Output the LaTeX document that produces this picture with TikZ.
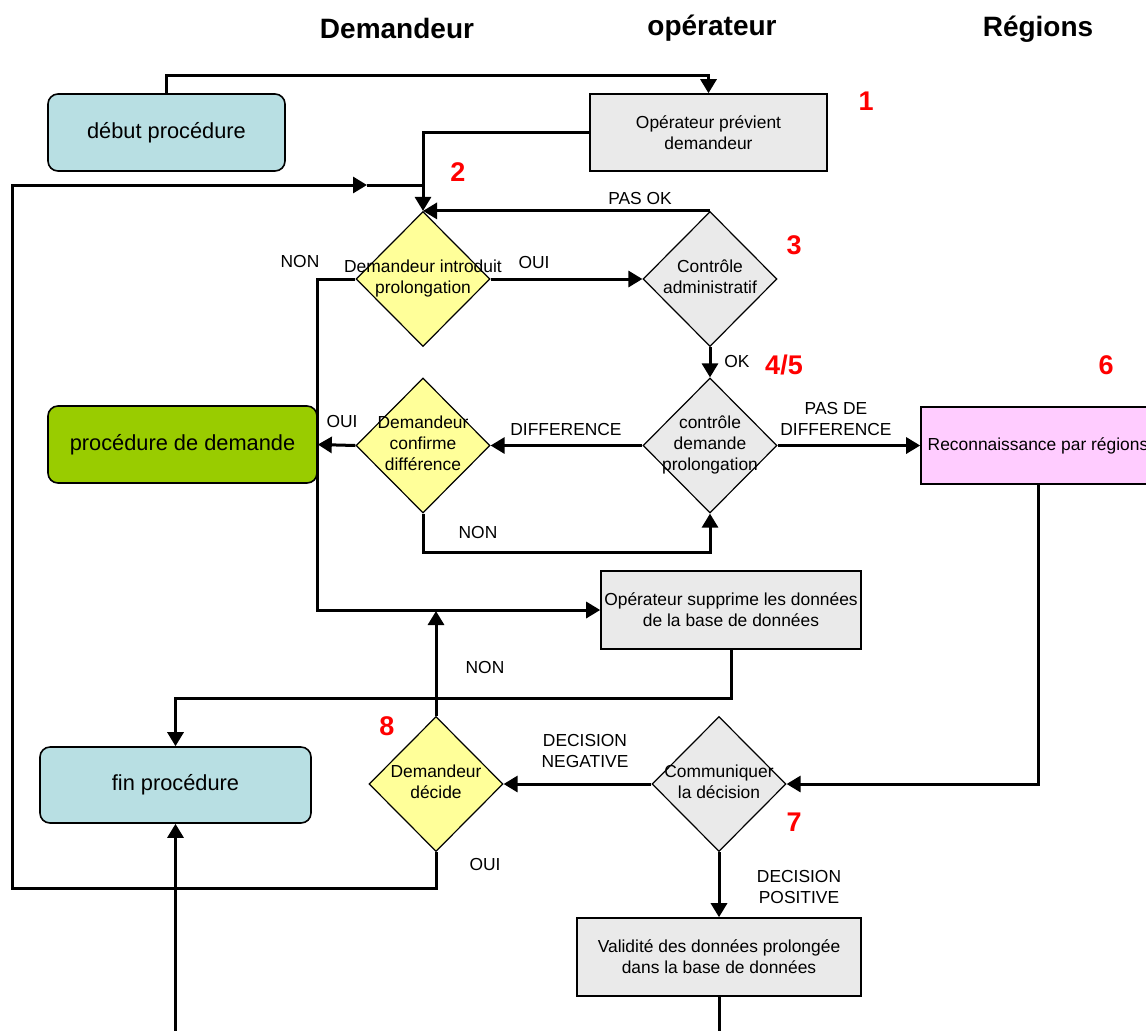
\documentclass[tikz,border=0pt]{standalone}
\usepackage{fontspec}
\setmainfont{Liberation Sans}
\usetikzlibrary{shapes.geometric,arrows.meta,calc}
\definecolor{cblue}{HTML}{B8DFE3}
\definecolor{cgrey}{HTML}{EAEAEA}
\definecolor{cyel}{HTML}{FFFF99}
\definecolor{cgreen}{HTML}{99CC00}
\definecolor{cpink}{HTML}{FFCCFF}
\newcommand\dtxt[1]{\makebox[0pt]{\begin{tabular}{@{}c@{}}#1\end{tabular}}}
\begin{document}
\begin{tikzpicture}[x=0.5pt,y=-0.5pt,
  conn/.style={line width=1.5pt},
  arr/.style={conn,-{Triangle[length=7pt,width=8pt]}},
  small/.style={font=\fontsize{8.7}{10.4}\selectfont},
  rbox/.style={draw, line width=0.8pt, rounded corners=5pt, fill=cblue, font=\fontsize{10.9}{13}\selectfont, inner sep=0pt},
  gbox/.style={draw, line width=0.8pt, fill=cgrey, small, align=center, inner sep=0pt},
  dia/.style={diamond, draw, line width=0.6pt, inner sep=0pt, small, minimum width=67pt, minimum height=67.5pt},
  lab/.style={small, align=center, inner sep=0pt},
  num/.style={font=\fontsize{13.5}{16}\selectfont\bfseries, text=red, inner sep=0pt},
  hdr/.style={font=\fontsize{14}{16}\selectfont\bfseries, inner sep=0pt}]
\useasboundingbox (0,0) rectangle (1146,1030);
\clip (0,0) rectangle (1146,1030);

% headers
\node[hdr] (h1) at (397,28) {Demandeur};
\node[hdr] (h2) at (712,28) {opérateur};
\node[hdr] (h3) at (1038,29) {Régions};

% nodes
\node[rbox, minimum width=118.5pt, minimum height=38.5pt] (debut) at (166.5,132.5) {début procédure};
\node[gbox, minimum width=118.5pt, minimum height=38.5pt] (opprev) at (708.5,132.5) {Opérateur prévient\\demandeur};
\node[dia, fill=cyel] (d1) at (423,279) {\dtxt{Demandeur introduit\\prolongation}};
\node[dia, fill=cgrey] (d3) at (710,279) {\dtxt{Contrôle\\administratif}};
\node[dia, fill=cgrey] (d4) at (710,445.5) {\dtxt{contrôle\\demande\\prolongation}};
\node[dia, fill=cyel] (d5) at (423,445.5) {\dtxt{Demandeur\\confirme\\différence}};
\node[rbox, fill=cgreen, minimum width=134.5pt, minimum height=38.5pt] (proc) at (182.5,444.5) {procédure de demande};
\node[gbox, fill=cpink, minimum width=117pt, minimum height=38.5pt] (recon) at (1038,445.5) {Reconnaissance par régions};
\node[gbox, minimum width=130pt, minimum height=39pt] (supp) at (731,610) {Opérateur supprime les données\\de la base de données};
\node[rbox, minimum width=135.5pt, minimum height=38pt] (fin) at (175.5,785) {fin procédure};
\node[dia, fill=cgrey] (d7) at (719,784) {\dtxt{Communiquer\\la décision}};
\node[dia, fill=cyel] (d8) at (436,784) {\dtxt{Demandeur\\décide}};
\node[gbox, minimum width=142pt, minimum height=39pt] (valid) at (719,957) {Validité des données prolongée\\dans la base de données};

% step numbers
\node[num] (n1) at (866,101) {1};
\node[num] (n2) at (458,172) {2};
\node[num] (n3) at (794,245) {3};
\node[num] (n45) at (784,365) {4/5};
\node[num] (n6) at (1106,365) {6};
\node[num] (n7) at (794,822) {7};
\node[num] (n8) at (387,726) {8};

% coordinates
\coordinate (t1) at (166.5,75);
\coordinate (k1) at (317,610);
\coordinate (k2) at (423,552);
\coordinate (k3) at (436,611);
\coordinate (k4) at (731,698);
\coordinate (b1) at (175.5,1040);
\coordinate (b2) at (719,1040);
\coordinate (loopB) at (436,888);
\coordinate (loopL) at (12,888);
\coordinate (loopT) at (12,185);
\coordinate (midA) at (367,185);
\coordinate (join) at (423,185);

% connectors
\draw[arr] (debut.north) -- (t1) -| (opprev.north);
\draw[arr] (opprev.west) -| (d1.north);
\draw[arr] (d3.north) -- (d1.north);
\draw[arr] (d1.east) -- (d3.west);
\draw[arr] (d1.west) -| (k1) -- (supp.west);
\draw[arr] (d3.south) -- (d4.north);
\draw[arr] (d4.west) -- (d5.east);
\draw[arr] (d5.west) -- (proc.east);
\draw[arr] (d5.south) -- (k2) -| (d4.south);
\draw[arr] (d4.east) -- (recon.west);
\draw[arr] (recon.south) |- (d7.east);
\draw[arr] (d7.west) -- (d8.east);
\draw[arr] (d8.north) -- (k3);
\draw[arr] (supp.south) -- (k4) -| (fin.north);
\draw[arr] (b1) -- (fin.south);
\draw[arr] (d7.south) -- (valid.north);
\draw[conn] (valid.south) -- (b2);
\draw[arr] (d8.south) -- (loopB) -- (loopL) -- (loopT) -- (midA);
\draw[conn] (midA) -- (join);

% connector labels
\node[lab] (lpasok) at (640,199) {PAS OK};
\node[lab] (loui1) at (534,262) {OUI};
\node[lab] (lnon1) at (300,261) {NON};
\node[lab] (lok) at (737,361) {OK};
\node[lab] (loui2) at (342,421) {OUI};
\node[lab] (ldiff) at (566,429) {DIFFERENCE};
\node[lab] (lnon2) at (478,532) {NON};
\node[lab] (lpasdiff) at (836,419) {PAS DE\\DIFFERENCE};
\node[lab] (lnon3) at (485,667) {NON};
\node[lab] (lneg) at (585,751) {DECISION\\NEGATIVE};
\node[lab] (lpos) at (799,887) {DECISION\\POSITIVE};
\node[lab] (loui3) at (485,864) {OUI};
\end{tikzpicture}
\end{document}
